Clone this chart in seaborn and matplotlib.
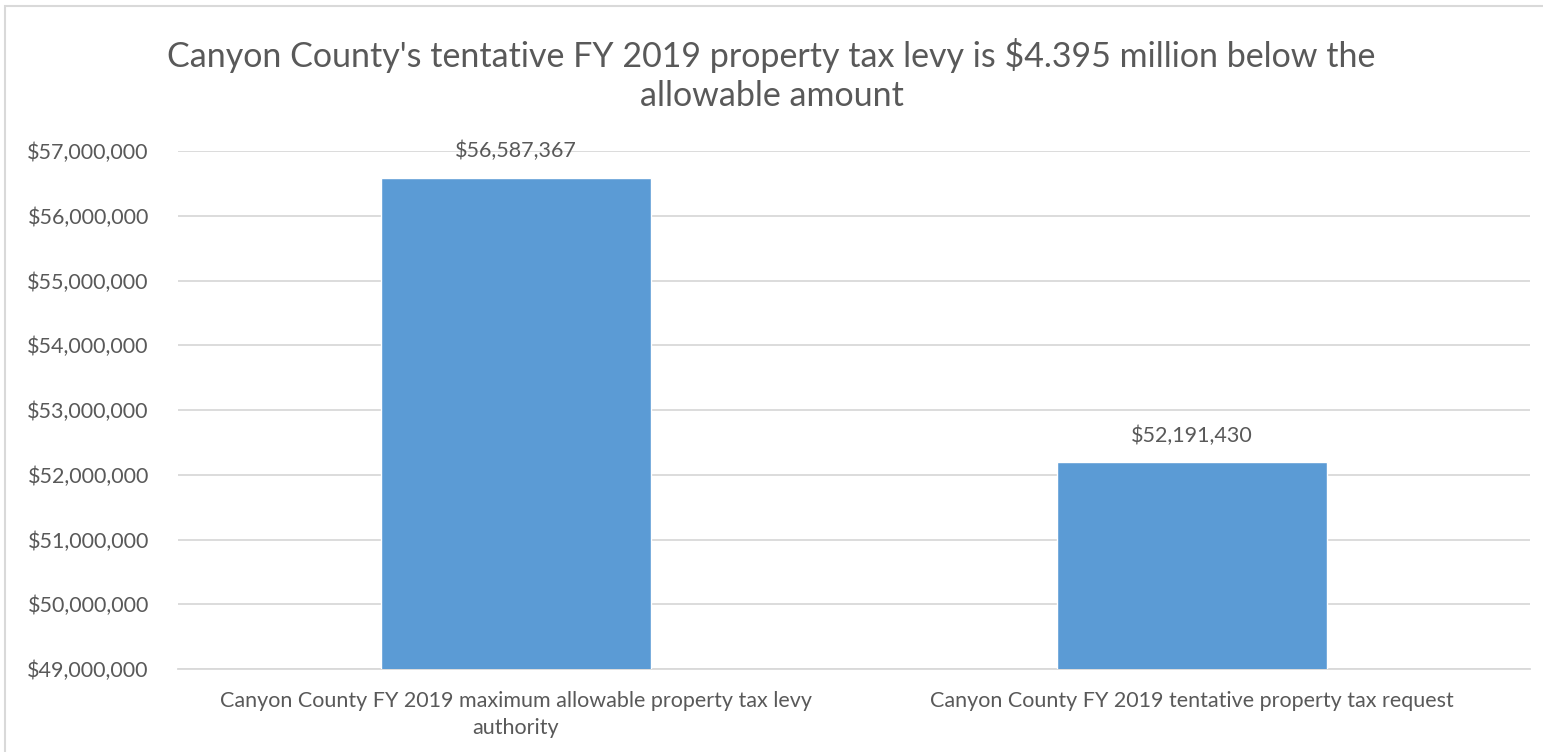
import matplotlib
matplotlib.use("Agg")
import matplotlib.pyplot as plt
import matplotlib.ticker as mticker
from matplotlib.patches import Rectangle
import pandas as pd
import seaborn as sns

categories = [
    "Canyon County FY 2019 maximum allowable property tax levy\nauthority",
    "Canyon County FY 2019 tentative property tax request",
]
amounts = [56587367, 52191430]
title = ("Canyon County's tentative FY 2019 property tax levy is $4.395 million below the\n"
         "allowable amount")

TEXT = "#595959"
BAR = "#5B9BD5"
GRID = "#D9D9D9"

sns.set_theme(style="white")
plt.rcParams["font.family"] = ["Lato", "DejaVu Sans"]

df = pd.DataFrame({"category": categories, "amount": amounts})

fig = plt.figure(figsize=(15.43, 7.52), dpi=100)
ax = fig.add_axes([178 / 1543, 83 / 752, 1352 / 1543, 518 / 752])

sns.barplot(data=df, x="category", y="amount", color=BAR, saturation=1,
            width=0.4, ax=ax, zorder=3)

ax.set_ylim(49000000, 57000000)
ax.set_xlim(-0.5, 1.5)
ax.yaxis.set_major_locator(mticker.MultipleLocator(1000000))
ax.yaxis.set_major_formatter(mticker.FuncFormatter(lambda v, p: f"${v:,.0f}"))
ax.grid(axis="y", color=GRID, linewidth=1.3, zorder=0)
for s in ["top", "right", "left"]:
    ax.spines[s].set_visible(False)
ax.spines["bottom"].set_color(GRID)
ax.spines["bottom"].set_linewidth(1.3)
ax.set_xlabel("")
ax.set_ylabel("")
ax.tick_params(axis="y", labelsize=15.5, colors=TEXT, pad=21, length=0)
ax.tick_params(axis="x", labelsize=15.5, colors=TEXT, pad=16, length=0)
for lbl in ax.get_xticklabels():
    lbl.set_horizontalalignment("center")
    lbl.set_multialignment("center")
    lbl.set_linespacing(1.45)

for c in ax.containers:
    ax.bar_label(c, labels=[f"${v:,.0f}" for v in amounts], padding=12,
                 fontsize=15.5, color=TEXT)

fig.text(0.5, 0.9, title, ha="center", va="center", fontsize=24.5,
         color=TEXT, linespacing=1.25)

fig.patches.append(Rectangle((5 / 1543, -0.1), 1.2, (746 / 752) + 0.1,
                             transform=fig.transFigure, fill=False,
                             edgecolor=GRID, linewidth=1.5))

fig.savefig("out.png", dpi=100)
